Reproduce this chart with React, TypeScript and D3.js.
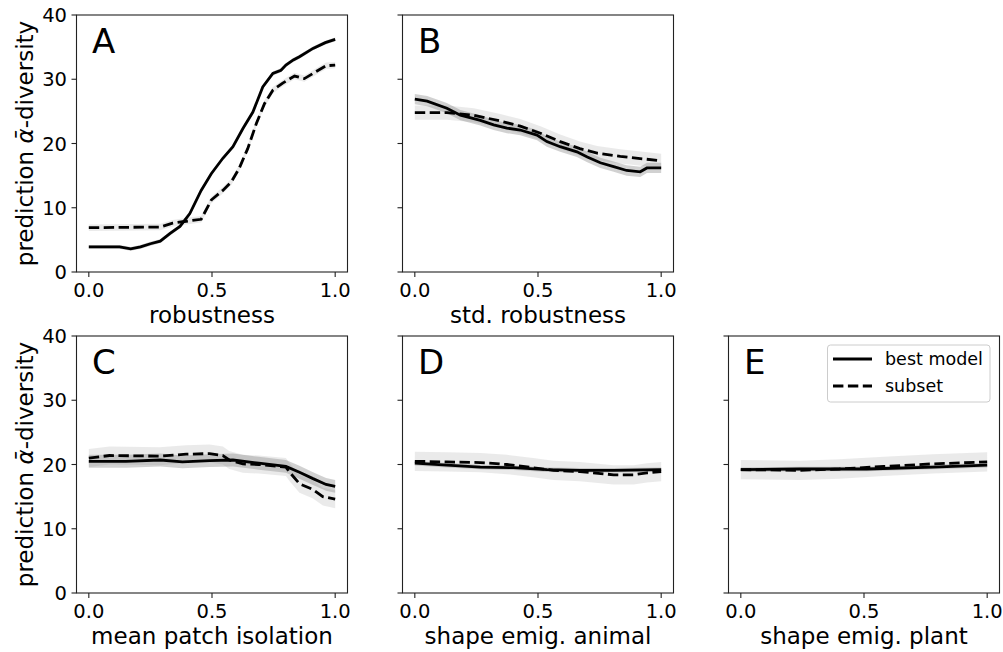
import React from "react";
import * as d3 from "d3";

// ---------- data ----------
const panelLetters = ["A", "B", "C", "D", "E"];
const xAxisLabels = [
  "robustness",
  "std. robustness",
  "mean patch isolation",
  "shape emig. animal",
  "shape emig. plant",
];
const yTicks = [0, 10, 20, 30, 40];
const xTicks = [0, 0.5, 1.0];
const xTickLabels = ["0.0", "0.5", "1.0"];
const legendLabels = ["best model", "subset"];

// Panel A
const xA_best = [0, 0.125, 0.17, 0.21, 0.25, 0.29, 0.33, 0.37, 0.41, 0.456, 0.497, 0.544, 0.585, 0.625, 0.666, 0.706, 0.747, 0.78, 0.8, 0.83, 0.855, 0.91, 0.96, 1.0];
const yA_best = [3.9, 3.9, 3.6, 3.9, 4.4, 4.8, 6.0, 7.1, 9.1, 12.7, 15.3, 17.7, 19.5, 22.3, 24.9, 28.8, 30.9, 31.4, 32.2, 33.0, 33.5, 34.8, 35.7, 36.2];
const xA_sub = [0, 0.29, 0.34, 0.395, 0.456, 0.497, 0.544, 0.578, 0.61, 0.645, 0.68, 0.713, 0.747, 0.787, 0.835, 0.875, 0.923, 0.963, 1.0];
const yA_sub = [6.9, 7.0, 7.6, 7.9, 8.2, 11.2, 12.7, 14.0, 16.1, 19.2, 23.1, 26.2, 28.3, 29.4, 30.5, 30.1, 31.2, 32.1, 32.2];

// Panel B
const xB_best = [0, 0.05, 0.13, 0.185, 0.266, 0.32, 0.374, 0.428, 0.496, 0.536, 0.59, 0.658, 0.7, 0.753, 0.807, 0.86, 0.915, 0.942, 1.0];
const yB_best = [26.9, 26.6, 25.5, 24.4, 23.6, 22.9, 22.4, 22.1, 21.3, 20.3, 19.5, 18.7, 17.9, 17.0, 16.4, 15.8, 15.6, 16.2, 16.2];
const xB_sub = [0, 0.13, 0.24, 0.347, 0.428, 0.51, 0.59, 0.67, 0.74, 0.834, 1.0];
const yB_sub = [24.8, 24.8, 24.4, 23.5, 22.7, 21.6, 20.3, 19.2, 18.5, 18.0, 17.3];

// Panel C
const xC_best = [0, 0.15, 0.29, 0.38, 0.49, 0.585, 0.69, 0.8, 0.855, 0.91, 0.963, 1.0];
const yC_best = [20.5, 20.5, 20.7, 20.4, 20.6, 20.7, 20.2, 19.7, 18.8, 17.8, 16.9, 16.6];
const xC_sub = [0, 0.084, 0.287, 0.395, 0.49, 0.544, 0.57, 0.625, 0.69, 0.8, 0.815, 0.855, 0.91, 0.95, 1.0];
const yC_sub = [21.0, 21.4, 21.3, 21.6, 21.7, 21.4, 20.7, 20.1, 20.0, 19.6, 18.8, 17.0, 16.1, 15.0, 14.6];

// Panel D
const xD_best = [0, 0.13, 0.266, 0.4, 0.536, 0.67, 0.807, 1.0];
const yD_best = [20.2, 19.9, 19.6, 19.5, 19.2, 19.1, 19.1, 19.2];
const xD_sub = [0, 0.13, 0.266, 0.374, 0.48, 0.563, 0.67, 0.807, 0.888, 0.942, 1.0];
const yD_sub = [20.5, 20.4, 20.3, 20.0, 19.5, 19.1, 18.9, 18.4, 18.4, 18.7, 18.9];

// Panel E
const xE_best = [0, 0.24, 0.51, 0.78, 1.0];
const yE_best = [19.2, 19.3, 19.3, 19.6, 19.9];
const xE_sub = [0, 0.24, 0.4, 0.58, 0.78, 1.0];
const yE_sub = [19.2, 19.1, 19.3, 19.7, 20.1, 20.4];

// half-widths of the uncertainty bands
const bandBest = [0.3, 0.8, 1.0, 0.35, 0.35];
const bandSub = [0.5, 1.1, 1.4, 1.5, 1.5];

const bestX = [xA_best, xB_best, xC_best, xD_best, xE_best];
const bestY = [yA_best, yB_best, yC_best, yD_best, yE_best];
const subX = [xA_sub, xB_sub, xC_sub, xD_sub, xE_sub];
const subY = [yA_sub, yB_sub, yC_sub, yD_sub, yE_sub];

// ---------- layout ----------
const W = 1003;
const H = 652;
const PW = 271;
const PH = 257;
const colLeft = [76.5, 402.5, 728.5];
const rowTop = [15, 336];
const panelPos = [
  [0, 0],
  [1, 0],
  [0, 1],
  [1, 1],
  [2, 1],
];
const FONT = "DejaVu Sans, Verdana, sans-serif";

function Panel({ i }: { i: number }) {
  const [c, r] = panelPos[i];
  const left = colLeft[c];
  const top = rowTop[r];
  const x = d3.scaleLinear().domain([-0.05, 1.05]).range([left, left + PW]);
  const y = d3.scaleLinear().domain([0, 40]).range([top + PH, top]);

  const toPts = (xs: number[], ys: number[]) => xs.map((v, k) => [v, ys[k]] as [number, number]);
  const line = d3
    .line<[number, number]>()
    .x((d) => x(d[0]))
    .y((d) => y(d[1]));
  const area = (hw: number) =>
    d3
      .area<[number, number]>()
      .x((d) => x(d[0]))
      .y0((d) => y(d[1] - hw))
      .y1((d) => y(d[1] + hw));

  const best = toPts(bestX[i], bestY[i]);
  const sub = toPts(subX[i], subY[i]);
  const showYLabels = c === 0;
  const bottom = top + PH;

  return (
    <g>
      <path d={area(bandSub[i])(sub) || ""} fill="#b8b8b8" fillOpacity={0.3} stroke="none" />
      <path d={area(bandBest[i])(best) || ""} fill="#8c8c8c" fillOpacity={0.4} stroke="none" />
      <path d={line(sub) || ""} fill="none" stroke="#000" strokeWidth={2.8} strokeDasharray="10.4 4.5" />
      <path d={line(best) || ""} fill="none" stroke="#000" strokeWidth={2.8} />
      <rect x={left} y={top} width={PW} height={PH} fill="none" stroke="#222" strokeWidth={1.1} />
      {xTicks.map((t, k) => (
        <g key={"x" + k}>
          <line x1={x(t)} x2={x(t)} y1={bottom} y2={bottom + 5} stroke="#222" strokeWidth={1.1} />
          <text x={x(t)} y={bottom + 24.5} textAnchor="middle" fontSize={19.5} fontFamily={FONT}>
            {xTickLabels[k]}
          </text>
        </g>
      ))}
      {yTicks.map((t, k) => (
        <g key={"y" + k}>
          <line x1={left - 5} x2={left} y1={y(t)} y2={y(t)} stroke="#222" strokeWidth={1.1} />
          {showYLabels && (
            <text x={left - 9.5} y={y(t) + 7} textAnchor="end" fontSize={19.5} fontFamily={FONT}>
              {t}
            </text>
          )}
        </g>
      ))}
      <text x={left + PW / 2} y={bottom + 51} textAnchor="middle" fontSize={23} fontFamily={FONT}>
        {xAxisLabels[i]}
      </text>
      <text x={left + 15.5} y={top + 38} fontSize={34} fontFamily={FONT}>
        {panelLetters[i]}
      </text>
      {showYLabels && (
        <text
          transform={`translate(${left - 44},${top + PH / 2}) rotate(-90)`}
          textAnchor="middle"
          fontSize={23}
          fontFamily={FONT}
        >
          prediction <tspan fontStyle="italic">{"\u03B1\u0304"}</tspan>-diversity
        </text>
      )}
    </g>
  );
}

function Legend() {
  const bx = 827.5;
  const by = 345;
  return (
    <g>
      <rect x={bx} y={by} width={162.5} height={57} rx={3} fill="#fff" fillOpacity={0.8} stroke="#ccc" strokeWidth={1} />
      <line x1={833} x2={872} y1={359} y2={359} stroke="#000" strokeWidth={2.8} />
      <line x1={833} x2={872} y1={386} y2={386} stroke="#000" strokeWidth={2.8} strokeDasharray="10.4 4.5" />
      <text x={885} y={365} fontSize={17.5} fontFamily={FONT}>
        {legendLabels[0]}
      </text>
      <text x={885} y={392} fontSize={17.5} fontFamily={FONT}>
        {legendLabels[1]}
      </text>
    </g>
  );
}

export default function App() {
  return (
    <svg
      width={W}
      height={H}
      viewBox={`0 0 ${W} ${H}`}
      style={{ position: "absolute", left: 0, top: 0, background: "#fff" }}
    >
      <rect x={0} y={0} width={W} height={H} fill="#fff" />
      {panelLetters.map((_, i) => (
        <Panel key={i} i={i} />
      ))}
      <Legend />
    </svg>
  );
}
